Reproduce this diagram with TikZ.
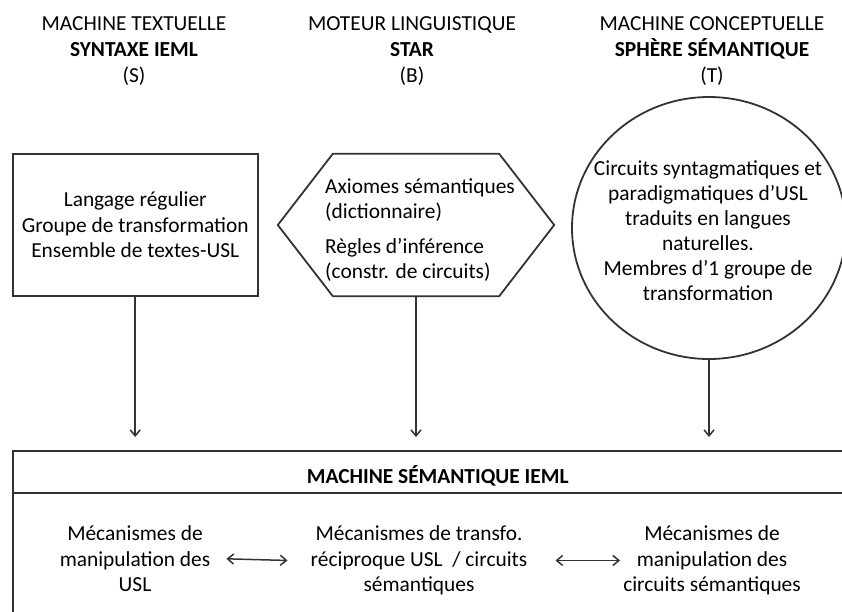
\documentclass[tikz,border=0pt]{standalone}
\usepackage{fontspec}
\setmainfont{Carlito}
\usetikzlibrary{shapes.geometric,arrows.meta}
\definecolor{ink}{HTML}{333333}
\begin{document}
\begin{tikzpicture}[x=1pt,y=-1pt,
  every node/.style={font=\fontsize{21.4}{25.5}\selectfont, inner sep=0pt},
  heading/.style={align=center, anchor=north, font=\fontsize{21.4}{26}\selectfont},
  frame/.style={draw=ink, line width=1.8pt},
  barb/.tip={Straight Barb[length=6pt,width=10pt]},
  feed/.style={draw=ink, line width=1.5pt, -barb},
  link/.style={draw=ink, line width=1.5pt, barb-barb}]
\useasboundingbox (0,0) rectangle (842,611);
\clip (0,0) rectangle (842,611);
\fill[white] (0,0) rectangle (842,611);

% column headings
\node[heading] (hS) at (134,16.5) {MACHINE TEXTUELLE\\\textbf{SYNTAXE IEML}\\(S)};
\node[heading] (hB) at (412,16.5) {MOTEUR LINGUISTIQUE\\\textbf{STAR}\\(B)};
\node[heading] (hT) at (712,16.5) {MACHINE CONCEPTUELLE\\\textbf{SPHÈRE SÉMANTIQUE}\\(T)};

% textual machine
\node[frame, minimum width=245pt, minimum height=142pt, align=center] (syn) at (135.2,225)
  {Langage régulier\\Groupe de transformation\\Ensemble de textes-USL};

% linguistic engine (hexagon)
\node[minimum width=276pt, minimum height=142pt] (star) at (416,225) {};
\draw[frame] (star.west) -- ([xshift=55pt]star.north west) -- ([xshift=-55pt]star.north east)
  -- (star.east) -- ([xshift=-55pt]star.south east) -- ([xshift=55pt]star.south west) -- cycle;
\node[align=left, anchor=north west] (starTxt) at (325,178)
  {Axiomes sémantiques\\(dictionnaire)\\[9pt]Règles d’inférence\\(constr. de circuits)};

% conceptual machine (sphere)
\node[frame, ellipse, minimum width=274pt, minimum height=262pt] (sph) at (709,228) {};
\node[align=center, anchor=north, font=\fontsize{21.4}{25}\selectfont] (sphTxt) at (708,160.5)
  {Circuits syntagmatiques et\\paradigmatiques d’USL\\traduits en langues\\naturelles.\\Membres d’1 groupe de\\transformation};

% semantic machine: title band and body share one border line
\node[frame, outer sep=0pt, minimum width=850pt, minimum height=42pt, text height=22pt, text depth=0pt,
  font=\bfseries\fontsize{21.4}{25.5}\selectfont] (head) at (437.7,472) {MACHINE SÉMANTIQUE IEML};
\node[frame, outer sep=0pt, anchor=north, minimum width=850pt, minimum height=150pt] (mech) at (head.south) {};

\node[align=center, anchor=north] (m1) at (135,525.6) {Mécanismes de\\manipulation des\\USL};
\node[align=center, anchor=north] (m2) at (419,525.6) {Mécanismes de transfo.\\réciproque USL~ / circuits\\sémantiques};
\node[align=center, anchor=north] (m3) at (712,525.6) {Mécanismes de\\manipulation des\\circuits sémantiques};

% connectors
\draw[feed, shorten >=14pt] (syn.south) -- (syn.south |- head.north);
\draw[feed, shorten >=14pt] (star.south) -- (star.south |- head.north);
\draw[feed, shorten >=14pt] (sph.south) -- (sph.south |- head.north);
\draw[link] ([xshift=16pt]m1.east) -- ([xshift=-23pt]m2.west);
\draw[link] ([xshift=28pt]m2.east) -- ([xshift=-3pt]m3.west);
\end{tikzpicture}
\end{document}
